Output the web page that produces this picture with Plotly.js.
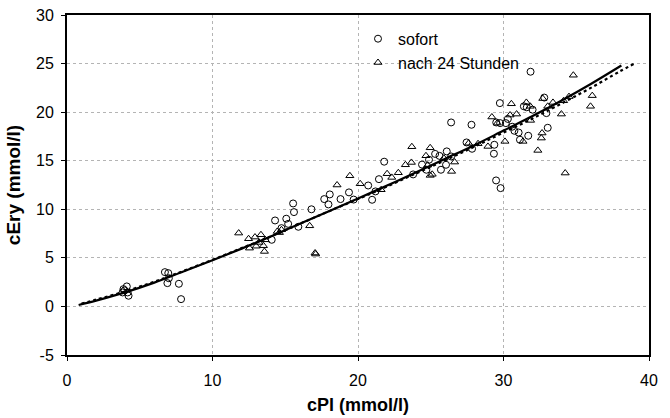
<!DOCTYPE html>
<html><head><meta charset="utf-8">
<script src="https://cdn.plot.ly/plotly-3.0.1.min.js"></script>
<style>body{margin:0;background:#fff}#c{width:670px;height:418px}</style>
</head><body><div id="c"></div>
<script>
// sofort (circles)
const sofortX = [3.88,3.82,4.11,4.17,4.23,3.96,6.73,6.96,6.9,7.0,7.69,7.84,14.07,14.3,15.54,15.6,14.74,15.07,15.2,15.9,16.8,17.68,18.06,17.97,18.8,19.38,19.7,20.7,20.97,21.2,21.44,21.8,23.79,24.4,24.7,24.88,25.3,25.6,25.7,26.05,26.1,26.4,26.4,27.46,27.8,27.84,29.37,29.34,29.49,29.8,29.75,29.5,29.77,30.16,30.6,30.75,31.04,31.13,31.4,31.7,31.86,32.0,32.8,32.95,33.04,30.3,31.6];
const sofortY = [1.78,1.44,2.06,1.44,1.10,1.65,3.53,3.43,2.4,2.9,2.33,0.75,6.86,8.85,10.6,9.71,8.06,9.03,8.5,8.2,10.0,11.05,11.53,10.5,11.05,11.74,11.0,12.45,10.98,11.84,13.1,14.9,13.59,14.6,14.07,15.1,15.7,15.5,14.07,14.58,15.96,18.94,15.44,16.88,18.7,16.23,16.64,15.72,12.97,12.18,20.93,18.94,18.87,18.87,18.5,18.08,17.9,17.16,20.6,17.57,24.16,20.25,21.5,19.9,18.39,19.3,20.5];
// nach 24 Stunden (triangles)
const nachX = [11.8,12.48,12.54,12.92,13.2,13.33,13.5,13.57,13.63,14.45,14.74,16.68,17.09,17.05,18.56,19.44,20.15,21.59,22.0,22.32,22.77,23.26,23.67,23.7,24.67,24.79,24.96,24.96,25.9,26.43,26.64,27.6,28.25,28.93,29.2,29.57,30.1,30.45,30.54,30.9,31.34,31.57,31.84,31.86,32.36,32.6,32.65,32.7,33.04,33.4,33.98,34.13,34.24,34.5,34.8,35.98,36.1,14.6,13.0,25.1];
const nachY = [7.55,6.97,6.0,7.14,6.59,7.38,6.25,5.66,6.86,7.72,7.89,8.3,5.39,5.5,12.5,13.45,12.63,12.01,13.66,13.28,13.76,14.58,14.82,16.44,15.51,14.55,16.33,13.49,15.27,13.9,14.86,16.8,16.75,16.47,19.5,18.87,16.99,19.7,20.86,19.8,16.99,21.0,20.6,19.15,16.06,17.33,17.85,21.4,20.6,21.0,19.8,21.17,13.73,21.6,23.8,20.6,21.7,7.6,6.2,13.6];
// fitted curves
const solidX = [0.8,2,4,6,8,10,12,14,16,18,20,22,24,26,28,30,32,34,36,38.1];
const solidY = [0.15,0.6,1.45,2.45,3.6,4.75,5.95,7.2,8.5,9.8,11.1,12.45,13.8,15.2,16.6,18.1,19.6,21.2,22.9,24.8];
const dotX = [1,2,4,6,8,10,12,14,16,18,20,22,24,26,28,30,32,34,36,38,39];
const dotY = [0.3,0.7,1.55,2.55,3.65,4.8,6.0,7.2,8.5,9.8,11.05,12.35,13.7,15.05,16.45,17.9,19.35,20.9,22.5,24.2,25.0];
// tick labels
const xTicks = [0,10,20,30,40];
const yTicks = [-5,0,5,10,15,20,25,30];
const yTickText = ['-5','0','5','10','15','20','25','30'];

const traces = [
 {x:solidX,y:solidY,mode:'lines',line:{color:'#000',width:2.2,shape:'spline'},showlegend:false,hoverinfo:'skip'},
 {x:dotX,y:dotY,mode:'lines',line:{color:'#000',width:2.2,dash:'dot',shape:'spline'},showlegend:false,hoverinfo:'skip'},
 {x:sofortX,y:sofortY,mode:'markers',name:'sofort',marker:{symbol:'circle-open',size:7,color:'#000',line:{width:1,color:'#000'}}},
 {x:nachX,y:nachY,mode:'markers',name:'nach 24 Stunden',marker:{symbol:'triangle-up-open',size:7,color:'#000',line:{width:1,color:'#000'}}}
];
const font = 'Liberation Sans, Arial, sans-serif';
const layout = {
 width:670,height:418,
 margin:{l:67,r:21,t:15,b:63},
 paper_bgcolor:'#fff',plot_bgcolor:'#fff',
 font:{family:font,color:'#000',size:16},
 showlegend:true,
 legend:{x:0.5,y:0.98,xanchor:'left',yanchor:'top',bgcolor:'rgba(0,0,0,0)',font:{size:16},itemwidth:30,tracegroupgap:0},
 xaxis:{range:[0,40],tickvals:xTicks,showgrid:true,gridcolor:'#b4b4b4',griddash:'dot',gridwidth:1,
   zeroline:false,showline:true,linecolor:'#000',linewidth:2,mirror:true,ticks:'outside',ticklen:4,tickcolor:'#000',
   ticklabelstandoff:6,
   title:{text:'<b>cPl (mmol/l)</b>',font:{size:18},standoff:10}},
 yaxis:{range:[-5,30],tickvals:yTicks,ticktext:yTickText,showgrid:true,gridcolor:'#b4b4b4',griddash:'dot',gridwidth:1,
   zeroline:false,showline:true,linecolor:'#000',linewidth:2,mirror:true,ticks:'outside',ticklen:4,tickcolor:'#000',
   ticklabelstandoff:4,
   title:{text:'<b>cEry (mmol/l)</b>',font:{size:19},standoff:10}}
};
Plotly.newPlot('c',traces,layout,{displayModeBar:false,staticPlot:true});
</script></body></html>
